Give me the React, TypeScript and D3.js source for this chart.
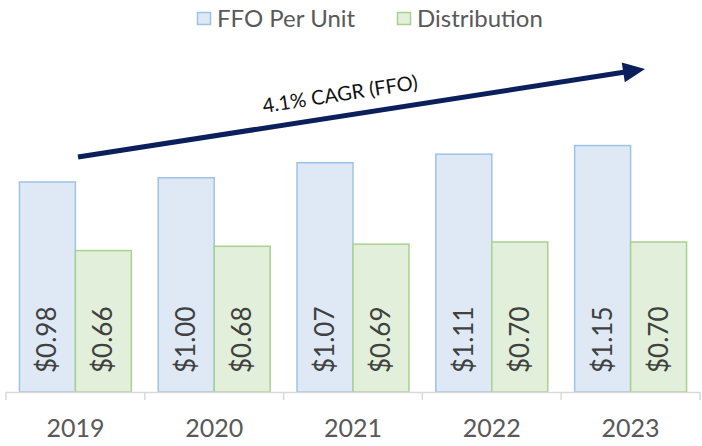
import React from "react";
import * as d3 from "d3";

const years = ["2019", "2020", "2021", "2022", "2023"];
const ffo = [0.98, 1.0, 1.07, 1.11, 1.15];
const distribution = [0.66, 0.68, 0.69, 0.7, 0.7];
const seriesNames = ["FFO Per Unit", "Distribution"];
const cagrLabel = "4.1% CAGR (FFO)";

const W = 702;
const H = 446;
const fills = ["#DEE9F5", "#E2EFDA"];
const strokes = ["#9DC3E6", "#A9D18E"];

export default function App() {
  const x = d3.scaleBand<string>().domain(years).range([6, 700]).padding(0);
  const sub = d3
    .scaleBand<string>()
    .domain(seriesNames)
    .range([0, x.bandwidth()])
    .paddingInner(0)
    .paddingOuter(0.24);
  const y = d3.scaleLinear().domain([0, 1.4]).range([392, 92]);
  const series = [ffo, distribution];

  const x1 = 78, y1 = 157, x2 = 645, y2 = 69;
  const ang = (Math.atan2(y2 - y1, x2 - x1) * 180) / Math.PI;
  const len = Math.hypot(x2 - x1, y2 - y1);

  return (
    <svg width={W} height={H} style={{ position: "absolute", left: 0, top: 0, fontFamily: "Lato" }}>
      <rect width={W} height={H} fill="#fff" />
      {/* legend */}
      {seriesNames.map((n, i) => {
        const lx = i === 0 ? 197 : 397;
        return (
          <g key={n}>
            <rect x={lx + 0.5} y={12.5} width={13} height={12} fill={fills[i]} stroke={strokes[i]} strokeWidth={1.5} />
            <text x={lx + 20} y={27} fontSize={24} fill="#595959">{n}</text>
          </g>
        );
      })}
      {/* bars */}
      {years.map((yr, gi) => (
        <g key={yr} transform={`translate(${x(yr)},0)`}>
          {seriesNames.map((n, si) => {
            const v = series[si][gi];
            const bx = sub(n)!;
            const bw = sub.bandwidth();
            return (
              <g key={n}>
                <rect x={bx} y={y(v)} width={bw} height={y(0) - y(v)} fill={fills[si]} stroke={strokes[si]} strokeWidth={1.5} />
                <text
                  transform={`translate(${bx + bw / 2 + 9},${y(0) - 19}) rotate(-90)`}
                  fontSize={26}
                  fill="#404040"
                  textAnchor="start"
                >
                  {"$" + v.toFixed(2)}
                </text>
              </g>
            );
          })}
        </g>
      ))}
      {/* axis */}
      <line x1={6} x2={700} y1={392.5} y2={392.5} stroke="#D9D9D9" strokeWidth={1.5} />
      {[...years.map((yr) => x(yr)!), 700].map((t, i) => (
        <line key={i} x1={t} x2={t} y1={392} y2={400} stroke="#D9D9D9" strokeWidth={1.5} />
      ))}
      {years.map((yr) => (
        <text key={yr} x={x(yr)! + x.bandwidth() / 2} y={437} fontSize={25} fill="#595959" textAnchor="middle">
          {yr}
        </text>
      ))}
      {/* arrow */}
      <g transform={`translate(${x1},${y1}) rotate(${ang})`}>
        <line x1={0} y1={0} x2={len - 20} y2={0} stroke="#0B1F5C" strokeWidth={5} />
        <path d={`M${len},0 L${len - 22},-10 L${len - 22},10 Z`} fill="#0B1F5C" />
        <text x={len * 0.468} y={-15} fontSize={20} fill="#111" textAnchor="middle">
          {cagrLabel}
        </text>
      </g>
    </svg>
  );
}
